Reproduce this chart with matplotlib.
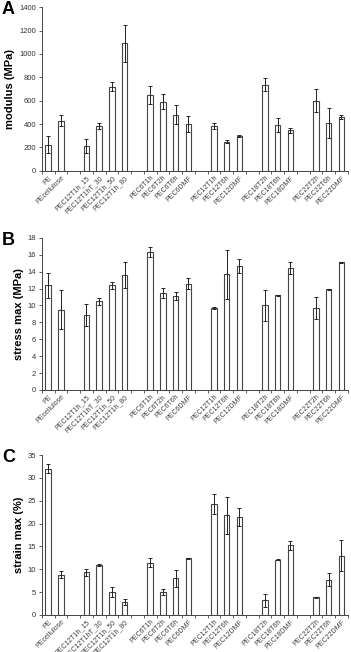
import matplotlib
matplotlib.use('Agg')
import matplotlib.pyplot as plt
import numpy as np

plt.rcParams['font.family'] = ['Liberation Sans', 'DejaVu Sans']

# sample groups, separated by an empty slot on the x axis
groups = [
    ['PE', 'PEcellulose'],
    ['PEC12T1h_15', 'PEC12T1hT_30', 'PEC12T1h_50', 'PEC12T1h_80'],
    ['PEC6T1h', 'PEC6T2h', 'PEC6T6h', 'PEC6DMF'],
    ['PEC12T1h', 'PEC12T6h', 'PEC12DMF'],
    ['PEC18T2h', 'PEC18T6h', 'PEC18DMF'],
    ['PEC22T2h', 'PEC22T6h', 'PEC22DMF'],
]

modulus = [225, 430, 210, 380, 720, 1090, 650, 590, 480, 400,
           380, 250, 300, 735, 390, 345, 600, 410, 460]
modulus_err = [75, 50, 60, 25, 40, 160, 75, 65, 80, 70,
               25, 10, 10, 55, 60, 20, 100, 130, 20]

stress = [12.4, 9.5, 8.9, 10.5, 12.4, 13.6, 16.3, 11.5, 11.1, 12.6,
          9.7, 13.7, 14.7, 10.0, 11.2, 14.4, 9.7, 11.9, 15.1]
stress_err = [1.5, 2.3, 1.3, 0.4, 0.4, 1.5, 0.6, 0.6, 0.5, 0.7,
              0.1, 2.9, 0.8, 1.8, 0.1, 0.7, 1.3, 0.1, 0.1]

strain = [32.0, 8.8, 9.3, 10.9, 5.0, 2.8, 11.4, 5.0, 8.0, 12.4,
          24.3, 21.8, 21.4, 3.2, 12.1, 15.2, 3.8, 7.7, 13.0]
strain_err = [1.0, 0.7, 0.7, 0.2, 1.0, 0.6, 1.0, 0.7, 1.8, 0.1,
              2.2, 4.0, 2.0, 1.4, 0.1, 1.0, 0.1, 1.4, 3.3]

# x positions with one empty slot between groups
labels = []
xpos = []
slot = 0
for g in groups:
    for name in g:
        labels.append(name)
        xpos.append(slot)
        slot += 1
    slot += 1
n_slots = slot - 1

panels = [
    ('A', modulus, modulus_err, 'modulus (MPa)', 1400, 200, [0.738, 0.989]),
    ('B', stress, stress_err, 'stress max (MPa)', 18, 2, [0.402, 0.635]),
    ('C', strain, strain_err, 'strain max (%)', 35, 5, [0.057, 0.302]),
]

fig = plt.figure(figsize=(3.51, 6.52), dpi=100)

for letter, vals, errs, ylabel, ymax, ystep, (bot, top) in panels:
    ax = fig.add_axes([0.119, bot, 0.872, top - bot])
    ax.bar(xpos, vals, width=0.42, color='white', edgecolor='#444444',
           linewidth=0.8, zorder=2)
    ax.errorbar(xpos, vals, yerr=errs, fmt='none', ecolor='#222222',
                elinewidth=0.7, capsize=1.3, capthick=0.7, zorder=3)
    ax.set_xlim(-0.5, n_slots - 0.5)
    ax.set_ylim(0, ymax)
    ax.set_yticks(np.arange(0, ymax + 1e-9, ystep))
    ax.tick_params(axis='y', labelsize=5.5, length=2.5, width=0.6,
                   colors='#444444', labelcolor='#333333', pad=1.5)
    ax.set_xticks(xpos)
    ax.set_xticklabels(labels, rotation=45, ha='right', rotation_mode='anchor',
                       fontsize=5.0, color='#444444')
    ax.tick_params(axis='x', length=0, pad=2.5)
    ax.set_xticks(np.arange(-0.5, n_slots, 1.0), minor=True)
    ax.tick_params(axis='x', which='minor', length=2, width=0.6, colors='#444444')
    for s in ['top', 'right']:
        ax.spines[s].set_visible(False)
    for s in ['left', 'bottom']:
        ax.spines[s].set_linewidth(0.7)
        ax.spines[s].set_color('#444444')
    ax.set_ylabel(ylabel, fontsize=8, fontweight='bold', labelpad=3)
    fig.text(0.005, top - 0.004, letter, fontsize=13, fontweight='bold',
             ha='left', va='center')

fig.savefig('out.png', dpi=100)
